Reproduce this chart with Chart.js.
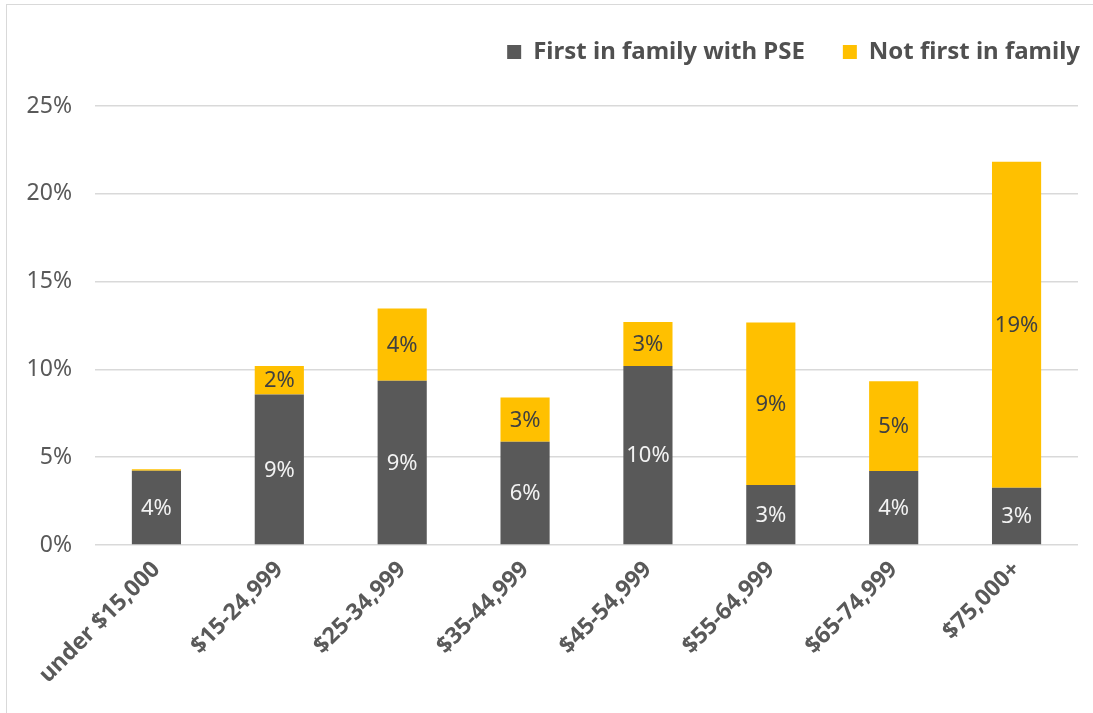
<!DOCTYPE html>
<html>
<head>
<meta charset="utf-8">
<script src="https://cdn.jsdelivr.net/npm/chart.js@4/dist/chart.umd.min.js"></script>
<style>
  html, body { margin: 0; padding: 0; background: #fff; overflow: hidden; }
  #wrap { position: relative; width: 1093px; height: 713px; overflow: hidden; }
  #frame { position: absolute; left: 6px; top: 4px; width: 1200px; height: 800px; border: 1px solid #d9d9d9; box-sizing: border-box; }
  canvas { position: absolute; left: 0; top: 0; }
</style>
</head>
<body>
<div id="wrap">
  <div id="frame"></div>
  <canvas id="grafico" width="1093" height="713"></canvas>
</div>
<script>
// categorias de ingreso
const categorias = ['under $15,000', '$15-24,999', '$25-34,999', '$35-44,999', '$45-54,999', '$55-64,999', '$65-74,999', '$75,000+'];
// porcentajes
const primeroFamilia = [4.23, 8.57, 9.35, 5.88, 10.2, 3.41, 4.21, 3.26];
const noPrimero = [0.08, 1.63, 4.12, 2.52, 2.5, 9.26, 5.12, 18.57];
const ticksY = [0, 5, 10, 15, 20, 25];

const fuente = "'Noto Sans', sans-serif";

// altura fija de la leyenda y un poco mas a la derecha
const ajusteLeyenda = {
  id: 'ajusteLeyenda',
  beforeInit(chart) {
    const fitOrig = chart.legend.fit;
    chart.legend.fit = function () {
      fitOrig.call(this);
      this.height = 104;
    };
  },
  afterLayout(chart) {
    chart.legend.left += 40;
    chart.legend.right += 40;
  }
};

// etiquetas dentro de las barras
const etiquetas = {
  id: 'etiquetas',
  afterDatasetsDraw(chart) {
    const ctx = chart.ctx;
    ctx.save();
    ctx.font = '22px ' + fuente;
    ctx.textAlign = 'center';
    ctx.textBaseline = 'middle';
    chart.data.datasets.forEach((ds, i) => {
      const meta = chart.getDatasetMeta(i);
      meta.data.forEach((bar, j) => {
        const v = ds.data[j];
        if (v < 1) return;
        const p = bar.getProps(['x', 'y', 'base'], true);
        ctx.fillStyle = i === 0 ? '#f2f2f2' : '#404040';
        ctx.fillText(Math.round(v) + '%', p.x, (p.y + p.base) / 2 + 1);
      });
    });
    ctx.restore();
  }
};

new Chart(document.getElementById('grafico').getContext('2d'), {
  type: 'bar',
  data: {
    labels: categorias,
    datasets: [
      { label: 'First in family with PSE', data: primeroFamilia, backgroundColor: '#595959', barPercentage: 0.4, categoryPercentage: 1 },
      { label: 'Not first in family', data: noPrimero, backgroundColor: '#ffc000', barPercentage: 0.4, categoryPercentage: 1 }
    ]
  },
  options: {
    responsive: false,
    animation: false,
    layout: { padding: { left: 20, right: 15, top: 2, bottom: 10 } },
    plugins: {
      legend: {
        position: 'top',
        align: 'end',
        labels: {
          color: '#505050',
          font: { family: fuente, size: 24, weight: 'bold' },
          boxWidth: 14,
          boxHeight: 14,
          padding: 38
        }
      },
      tooltip: { enabled: false }
    },
    scales: {
      x: {
        stacked: true,
        grid: { display: false },
        border: { display: false },
        ticks: {
          color: '#595959',
          font: { family: fuente, size: 23, weight: 'bold' },
          minRotation: 45,
          maxRotation: 45,
          padding: 3
        },
        afterFit(s) {
          s.height = 158;
          s.paddingLeft = 0;
          s.paddingRight = 0;
        }
      },
      y: {
        stacked: true,
        min: 0,
        max: 25,
        afterBuildTicks(s) { s.ticks = ticksY.map(v => ({ value: v })); },
        grid: { color: '#d9d9d9', lineWidth: 1.5, drawTicks: false },
        border: { display: false },
        ticks: {
          color: '#595959',
          font: { family: fuente, size: 23 },
          padding: 23,
          callback: v => v + '%'
        },
        afterFit(s) { s.width = 75; }
      }
    }
  },
  plugins: [ajusteLeyenda, etiquetas]
});
</script>
</body>
</html>
